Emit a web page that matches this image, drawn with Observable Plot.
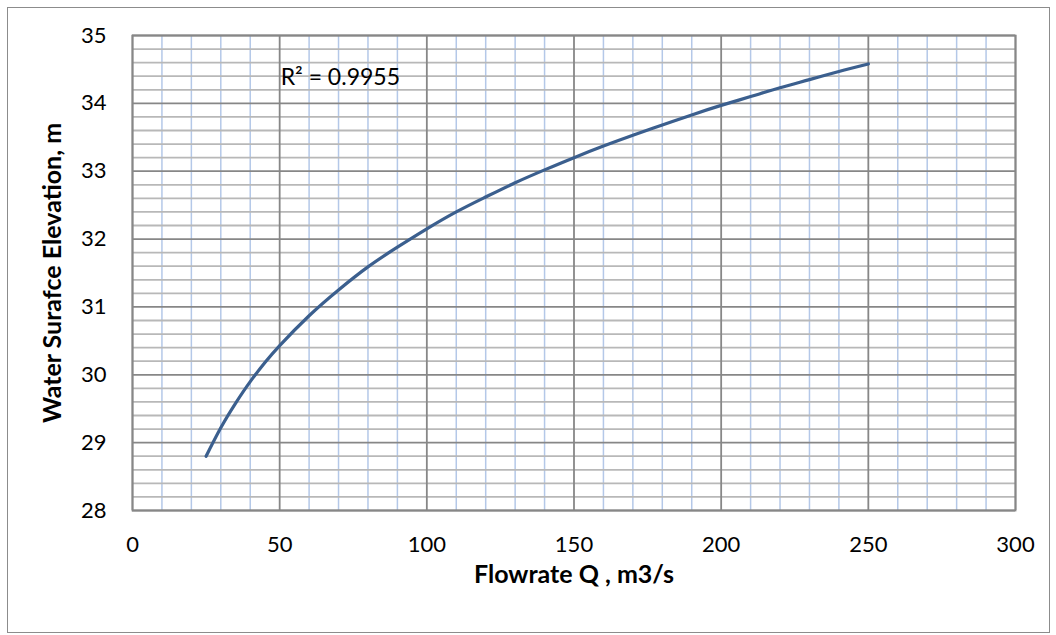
<!DOCTYPE html>
<html>
<head>
<meta charset="utf-8">
<script src="https://cdn.jsdelivr.net/npm/d3@7"></script>
<script src="https://cdn.jsdelivr.net/npm/@observablehq/plot@0.6"></script>
<style>
  html, body { margin: 0; padding: 0; background: #ffffff; }
  #wrap { position: relative; width: 1056px; height: 635px; overflow: hidden; }
  #border { position: absolute; left: 7px; top: 7px; width: 1041px; height: 624px; border: 1px solid #8c8c8c; box-sizing: content-box; pointer-events: none; }
  #chart { position: absolute; left: 0; top: 0; }
</style>
</head>
<body>
<div id="wrap">
  <div id="chart"></div>
  <div id="border"></div>
</div>
<script>
// Data (trendline values)
const flow = [25, 30, 35, 40, 45, 50, 60, 70, 80, 90, 100, 110, 120, 130, 140, 150, 160, 170, 180, 190, 200, 210, 220, 230, 240, 250];
const elevation = [28.80, 29.22, 29.58, 29.90, 30.18, 30.43, 30.87, 31.25, 31.59, 31.88, 32.15, 32.40, 32.62, 32.83, 33.02, 33.20, 33.37, 33.53, 33.68, 33.83, 33.97, 34.10, 34.23, 34.35, 34.47, 34.58];

const xTicks = [0, 50, 100, 150, 200, 250, 300];
const yTicks = [28, 29, 30, 31, 32, 33, 34, 35];
const xMinor = d3.range(10, 300, 10).filter(v => v % 50 !== 0);
const yMinor = d3.range(0, 36).map(i => +(28 + i * 0.2).toFixed(1)).filter(v => !Number.isInteger(v));

const r2Label = "R² = 0.9955";
const r2Pos = [{q: 50, h: 34.38}];
const xLabel = "Flowrate Q , m3/s";
const yLabel = "Water Surafce Elevation, m";

const rows = flow.map((q, i) => ({q, h: elevation[i]}));

const chart = Plot.plot({
  width: 1056,
  height: 635,
  marginLeft: 132,
  marginRight: 41,
  marginTop: 35,
  marginBottom: 125,
  style: {fontFamily: "Lato, 'Open Sans', sans-serif", fontSize: "22px", color: "#000", background: "transparent"},
  x: {domain: [0, 300]},
  y: {domain: [28, 35]},
  marks: [
    Plot.ruleX(xMinor, {stroke: "#b4c8e8", strokeWidth: 1.5}),
    Plot.ruleY(yMinor, {stroke: "#b8b8b8", strokeWidth: 1.8}),
    Plot.ruleY(yTicks, {stroke: "#878787", strokeWidth: 1.8}),
    Plot.ruleX(xTicks, {stroke: "#878787", strokeWidth: 1.8}),
    Plot.frame({stroke: "#878787", strokeWidth: 1.8}),
    Plot.axisX(xTicks, {tickSize: 0, tickPadding: 26, label: null, fontSize: 22, tickFormat: d => String(d)}),
    Plot.axisY(yTicks, {tickSize: 0, tickPadding: 4, dx: -22, label: null, fontSize: 22, tickFormat: d => String(d)}),
    Plot.line(rows, {x: "q", y: "h", stroke: "#3b5f8e", strokeWidth: 3.2, curve: "natural"}),
    Plot.text(r2Pos, {x: "q", y: "h", text: () => r2Label, textAnchor: "start", dx: 1, fontSize: 23, fill: "#000"}),
    Plot.text([xLabel], {text: d => d, frameAnchor: "bottom", textAnchor: "middle", dy: 72, fontSize: 25, fontWeight: "bold", fill: "#000"}),
    Plot.text([yLabel], {text: d => d, frameAnchor: "left", textAnchor: "middle", dx: -80, rotate: -90, fontSize: 25, fontWeight: "bold", fill: "#000"})
  ]
});
document.getElementById("chart").appendChild(chart);
</script>
</body>
</html>
